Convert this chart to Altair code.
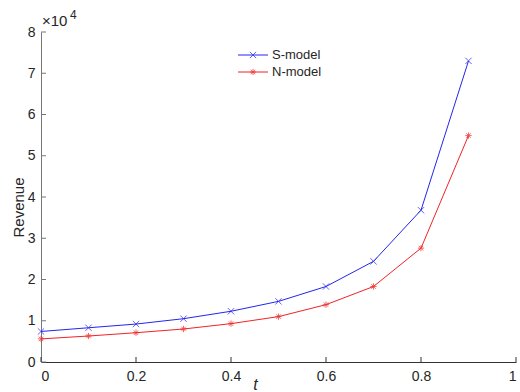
import altair as alt
import pandas as pd

# ---- data (Revenue in units of 10^4) ----
t_values = [0.0, 0.1, 0.2, 0.3, 0.4, 0.5, 0.6, 0.7, 0.8, 0.9]
s_model = [0.74, 0.83, 0.92, 1.05, 1.23, 1.47, 1.83, 2.44, 3.68, 7.30]
n_model = [0.56, 0.63, 0.71, 0.80, 0.93, 1.10, 1.39, 1.83, 2.76, 5.49]
series_names = ["S-model", "N-model"]
series_colors = ["#2424f0", "#f02424"]
x_ticks = [0.0, 0.2, 0.4, 0.6, 0.8, 1.0]
y_ticks = [0, 1, 2, 3, 4, 5, 6, 7, 8]

W, H = 475, 330
FONT = "Liberation Sans"

rows = []
for name, vals in zip(series_names, [s_model, n_model]):
    for tv, v in zip(t_values, vals):
        rows.append({"t": tv, "Revenue": v, "model": name})
df = pd.DataFrame(rows)

x_scale = alt.Scale(domain=[0, 1], nice=False, zero=False)
y_scale = alt.Scale(domain=[0, 8], nice=False)
color_scale = alt.Scale(domain=series_names, range=series_colors)
X_PATH = "M-1,-1L1,1M-1,1L1,-1"
STAR_PATH = "M-1,0L1,0M0,-1L0,1M-0.7,-0.7L0.7,0.7M-0.7,0.7L0.7,-0.7"
shape_scale = alt.Scale(domain=series_names, range=[X_PATH, STAR_PATH])
MSIZE = 40

base = alt.Chart(df)

lines = base.mark_line(strokeWidth=1).encode(
    x=alt.X("t:Q", scale=x_scale,
            axis=alt.Axis(values=x_ticks, format="~g", tickSize=0, labelPadding=7,
                          labelFont=FONT, labelFontSize=14, labelColor="#262626",
                          domainColor="#333333", grid=False,
                          title="t", titleFont=FONT, titleFontSize=16,
                          titleFontStyle="italic", titleFontWeight="normal",
                          titleColor="#262626", titleX=214, titleY=27,
                          titleBaseline="alphabetic", titleAlign="center")),
    y=alt.Y("Revenue:Q", scale=y_scale,
            axis=alt.Axis(values=y_ticks, format="d", tickSize=0, labelPadding=6,
                          labelFont=FONT, labelFontSize=14, labelColor="#262626",
                          domainColor="#777777", grid=False,
                          title="Revenue", titleFont=FONT, titleFontSize=15,
                          titleFontWeight="normal", titleColor="#262626",
                          titleAngle=-90, titleX=-23, titleY=175,
                          titleAlign="center", titleBaseline="middle")),
    color=alt.Color("model:N", scale=color_scale, legend=None),
    detail="model:N",
)

points = base.mark_point(filled=False, strokeWidth=1, size=MSIZE).encode(
    x=alt.X("t:Q", scale=x_scale),
    y=alt.Y("Revenue:Q", scale=y_scale),
    color=alt.Color("model:N", scale=color_scale, legend=None),
    shape=alt.Shape("model:N", scale=shape_scale, legend=None),
)

# inward ticks (MATLAB style)
ytick_df = pd.DataFrame({"v": y_ticks})
xtick_df = pd.DataFrame({"v": x_ticks})
yticks = alt.Chart(ytick_df).mark_rule(color="#777777", strokeWidth=1).encode(
    y=alt.Y("v:Q", scale=y_scale), x=alt.value(0), x2=alt.value(5))
xticks = alt.Chart(xtick_df).mark_rule(color="#333333", strokeWidth=1).encode(
    x=alt.X("v:Q", scale=x_scale), y=alt.value(H), y2=alt.value(H - 5))

# exponent label
exp_base = alt.Chart(pd.DataFrame({"s": ["\u00d710"]})).mark_text(
    font=FONT, fontSize=15, color="#262626", align="left", baseline="alphabetic"
).encode(text="s:N", x=alt.value(1), y=alt.value(-6))
exp_pow = alt.Chart(pd.DataFrame({"s": ["4"]})).mark_text(
    font=FONT, fontSize=12, color="#262626", align="left", baseline="alphabetic"
).encode(text="s:N", x=alt.value(29), y=alt.value(-13))

# legend
leg_layers = []
leg_y = [23, 40]
for name, col, shp, ly in zip(series_names, series_colors, [X_PATH, STAR_PATH], leg_y):
    ldf = pd.DataFrame({"model": [name]})
    leg_layers.append(alt.Chart(ldf).mark_rule(color=col, strokeWidth=1).encode(
        x=alt.value(197), x2=alt.value(227), y=alt.value(ly)))
    leg_layers.append(alt.Chart(ldf).mark_point(
        color=col, filled=False, strokeWidth=1, size=MSIZE, shape=shp).encode(
        x=alt.value(212), y=alt.value(ly)))
    leg_layers.append(alt.Chart(ldf).mark_text(
        font=FONT, fontSize=13, color="#262626", align="left", baseline="middle").encode(
        text="model:N", x=alt.value(231), y=alt.value(ly)))

chart = alt.layer(lines, points, yticks, xticks, exp_base, exp_pow, *leg_layers).properties(
    width=W, height=H,
    padding={"left": 41, "top": 32, "right": 4, "bottom": 30},
    autosize=alt.AutoSizeParams(type="none"),
    background="white",
).configure_view(stroke=None)

chart.save("out.html", embed_options={"renderer": "svg", "actions": False})
